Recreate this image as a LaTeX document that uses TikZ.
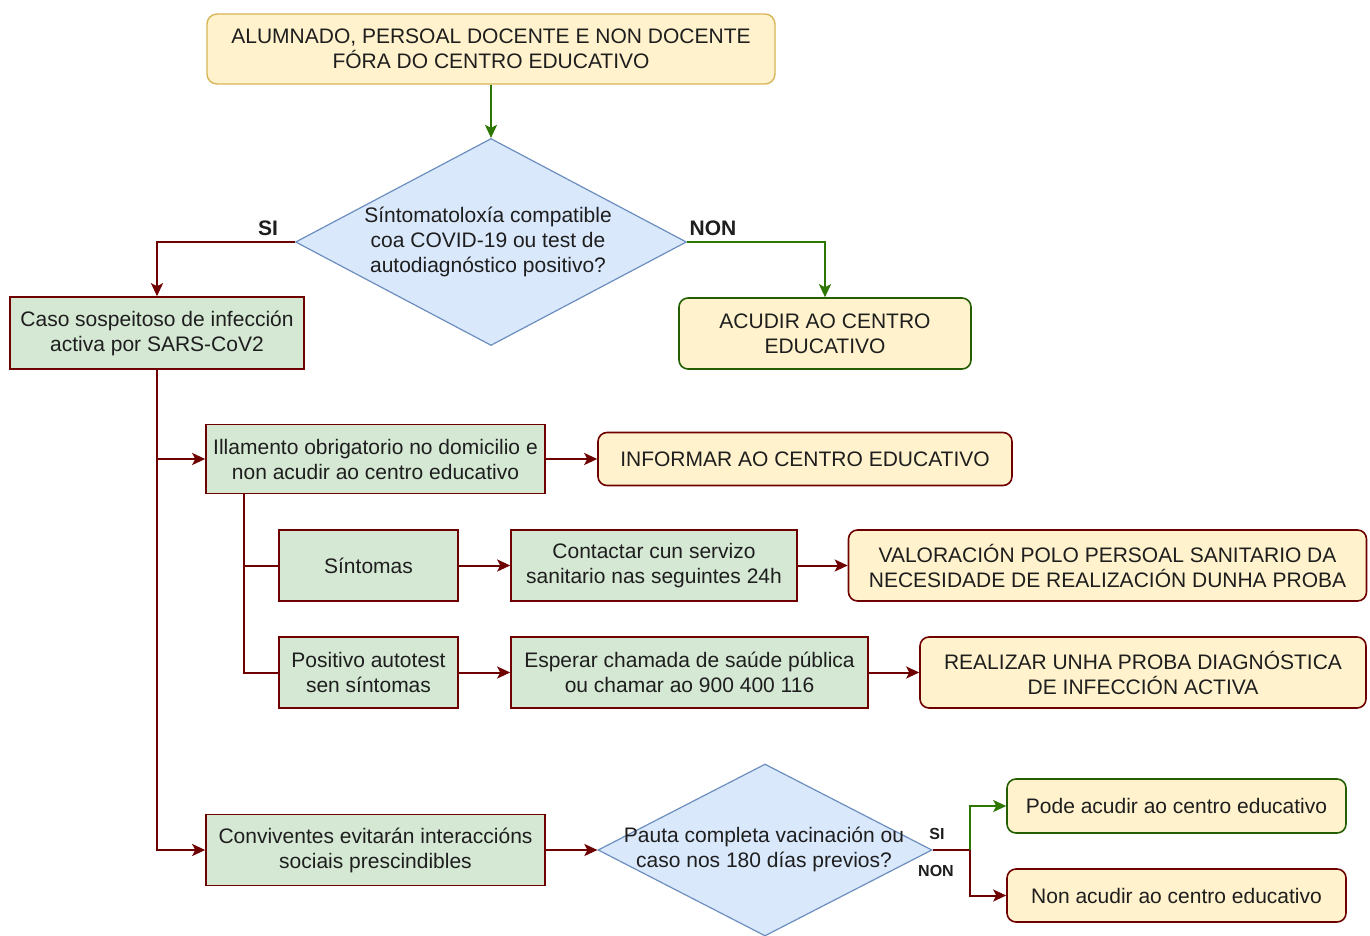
\documentclass[tikz,border=0pt]{standalone}
\usepackage{fontspec}
\setmainfont{Liberation Sans}
\usetikzlibrary{shapes.geometric,arrows.meta,calc}
\definecolor{dred}{HTML}{6F0000}
\definecolor{dgreen}{HTML}{2D7600}
\definecolor{yfill}{HTML}{FFF2CC}
\definecolor{ydraw}{HTML}{D6B656}
\definecolor{gfill}{HTML}{D5E8D4}
\definecolor{bfill}{HTML}{DAE8FC}
\definecolor{bdraw}{HTML}{6C8EBF}
\definecolor{txt}{HTML}{1E1E1E}
\begin{document}
\begin{tikzpicture}[x=1pt,y=-1pt,
  every node/.style={font=\fontsize{21}{25}\selectfont, text=txt, align=center, inner sep=0pt},
  gbox/.style={draw=dred, fill=gfill, line width=1.6pt},
  ybox/.style={draw=dred, fill=yfill, line width=1.6pt, rounded corners=9pt},
  ygbox/.style={draw=dgreen!80!black, fill=yfill, line width=1.6pt, rounded corners=9pt},
  dbox/.style={diamond, draw=bdraw, fill=bfill, line width=1.2pt},
  rline/.style={draw=dred, line width=2pt},
  rarr/.style={rline, -{Stealth[length=13pt,width=12pt,inset=3pt]}},
  garr/.style={draw=dgreen, line width=2pt, -{Stealth[length=13pt,width=12pt,inset=3pt]}},
  lbl/.style={font=\bfseries\fontsize{21}{25}\selectfont},
  slbl/.style={font=\bfseries\fontsize{16}{19}\selectfont}
]
\useasboundingbox (0,0) rectangle (1370,936);
\fill[white] (0,0) rectangle (1370,936);

\node[draw=ydraw, fill=yfill, line width=1.4pt, rounded corners=10pt, minimum width=568pt, minimum height=70pt] (top) at (491,49)
  {ALUMNADO, PERSOAL DOCENTE E NON DOCENTE\\FÓRA DO CENTRO EDUCATIVO};

\node[dbox, minimum width=391pt, minimum height=207pt] (d1) at (491,242) {};
\node (d1t) at (488,242) {Síntomatoloxía compatible\\coa COVID-19 ou test de\\autodiagnóstico positivo?};

\node[gbox, minimum width=294pt, minimum height=72pt] (caso) at (157,333) {Caso sospeitoso de infección\\activa por SARS-CoV2};
\node[ygbox, minimum width=292pt, minimum height=71pt] (acudir) at (825,333.5) {ACUDIR AO CENTRO\\EDUCATIVO};

\node[gbox, minimum width=339pt, minimum height=69pt] (ill) at (375.5,459) {Illamento obrigatorio no domicilio e\\non acudir ao centro educativo};
\node[ybox, minimum width=414pt, minimum height=53pt] (inf) at (805,459) {INFORMAR AO CENTRO EDUCATIVO};

\node[gbox, minimum width=179pt, minimum height=71pt] (sin) at (368.5,565.5) {Síntomas};
\node[gbox, minimum width=286pt, minimum height=71pt] (cont) at (654,565.5) {Contactar cun servizo\\sanitario nas seguintes 24h};
\node[ybox, minimum width=518pt, minimum height=71pt] (val) at (1107.5,565.5) {VALORACIÓN POLO PERSOAL SANITARIO DA\\NECESIDADE DE REALIZACIÓN DUNHA PROBA};

\node[gbox, minimum width=179pt, minimum height=71pt] (pos) at (368.5,672.5) {Positivo autotest\\sen síntomas};
\node[gbox, minimum width=357pt, minimum height=71pt] (esp) at (689.5,672.5) {Esperar chamada de saúde pública\\ou chamar ao 900 400 116};
\node[ybox, minimum width=446pt, minimum height=71pt] (real) at (1143,672.5) {REALIZAR UNHA PROBA DIAGNÓSTICA\\DE INFECCIÓN ACTIVA};

\node[gbox, minimum width=339pt, minimum height=71pt] (conv) at (375.5,850) {Conviventes evitarán interaccións\\sociais prescindibles};
\node[dbox, minimum width=334pt, minimum height=172pt] (d2) at (765,850) {};
\node (d2t) at (764,849) {Pauta completa vacinación ou\\caso nos 180 días previos?};

\node[ygbox, minimum width=339pt, minimum height=54pt] (pode) at (1176.5,806) {Pode acudir ao centro educativo};
\node[ybox, minimum width=339pt, minimum height=53pt] (non) at (1176.5,895.5) {Non acudir ao centro educativo};

% connectors
\draw[garr] (top.south) -- (d1.north);
\draw[rarr] (d1.west) -| (caso.north);
\draw[garr] (d1.east) -| (acudir.north);
\node[lbl] (si1) at (268,228) {SI};
\node[lbl] (non1) at (713,228) {NON};

\draw[rarr] (caso.south) |- (ill.west);
\draw[rarr] (caso.south) |- (conv.west);
\draw[rarr] (ill.east) -- (inf.west);

\coordinate (illb) at ($(ill.south west)+(39,0)$);
\draw[rline] (illb) |- (sin.west);
\draw[rline] (illb) |- (pos.west);
\draw[rarr] (sin.east) -- (cont.west);
\draw[rarr] (cont.east) -- (val.west);
\draw[rarr] (pos.east) -- (esp.west);
\draw[rarr] (esp.east) -- (real.west);

\draw[rarr] (conv.east) -- (d2.west);
\coordinate (split) at (970,850);
\draw[rline] (d2.east) -- (split);
\draw[garr] (split) |- (pode.west);
\draw[rarr] (split) |- (non.west);
\node[slbl] (si2) at (937,834) {SI};
\node[slbl] (non2) at (936,871) {NON};
\end{tikzpicture}
\end{document}
